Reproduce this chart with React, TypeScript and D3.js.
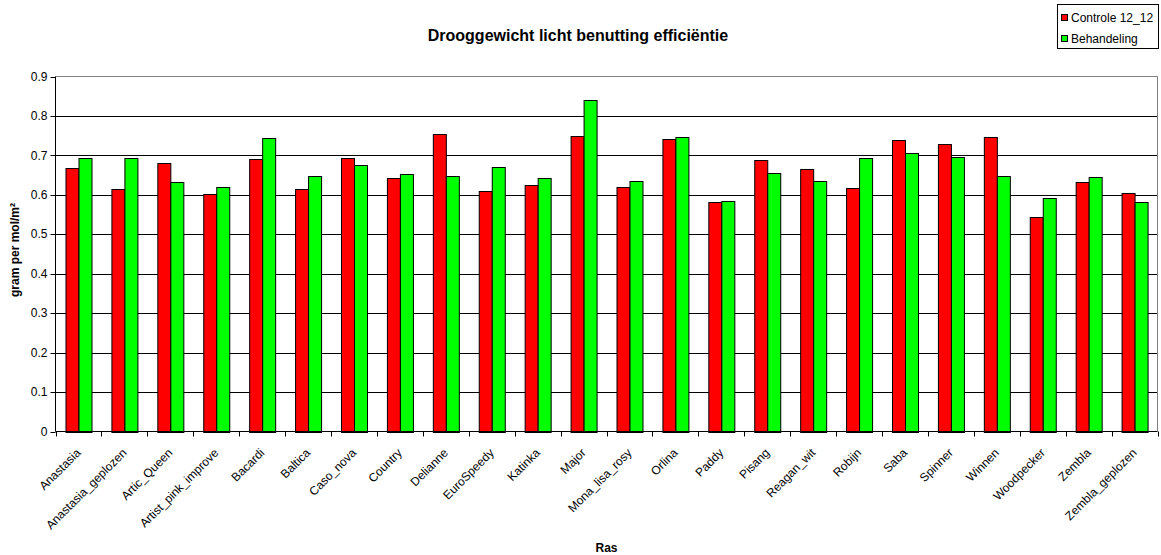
import React from "react";
import * as d3 from "d3";

const categories = [
  "Anastasia", "Anastasia_geplozen", "Artic_Queen", "Artist_pink_improve", "Bacardi",
  "Baltica", "Caso_nova", "Country", "Delianne", "EuroSpeedy", "Katinka", "Major",
  "Mona_lisa_rosy", "Orlina", "Paddy", "Pisang", "Reagan_wit", "Robijn", "Saba",
  "Spinner", "Winnen", "Woodpecker", "Zembla", "Zembla_geplozen",
];

const controle = [
  0.667, 0.614, 0.680, 0.601, 0.691, 0.614, 0.693, 0.642, 0.754, 0.610, 0.625, 0.750,
  0.619, 0.741, 0.583, 0.689, 0.665, 0.617, 0.739, 0.728, 0.746, 0.545, 0.632, 0.605,
];

const behandeling = [
  0.693, 0.693, 0.632, 0.621, 0.745, 0.647, 0.675, 0.654, 0.649, 0.671, 0.643, 0.840,
  0.635, 0.747, 0.585, 0.655, 0.636, 0.693, 0.706, 0.695, 0.647, 0.592, 0.645, 0.583,
];

const seriesNames = ["Controle 12_12", "Behandeling"];
const seriesColors = ["#FF0000", "#00FF00"];
const yTicks = [0, 0.1, 0.2, 0.3, 0.4, 0.5, 0.6, 0.7, 0.8, 0.9];

const title = "Drooggewicht licht benutting efficiëntie";
const yTitle = "gram per mol/m²";
const xTitle = "Ras";

const W = 1161;
const H = 555;
const plot = { left: 55.5, right: 1157.5, top: 76.5, bottom: 431.5 };
const font = "'Liberation Sans', Arial, sans-serif";

export default function App() {
  const x = d3.scaleBand<string>().domain(categories).range([plot.left, plot.right]);
  const x1 = d3
    .scaleBand<string>()
    .domain(seriesNames)
    .range([0, x.bandwidth()])
    .paddingInner(0)
    .paddingOuter(0.76);
  const y = d3.scaleLinear().domain([0, 0.9]).range([plot.bottom, plot.top]);

  const values = [controle, behandeling];
  const ticksX = categories.map((c) => x(c) as number).concat([plot.right]);

  return (
    <svg
      width={W}
      height={H}
      style={{ position: "absolute", left: 0, top: 0, background: "#fff" }}
      fontFamily={font}
    >
      <rect x={0} y={0} width={W} height={H} fill="#fff" />

      {/* gridlines */}
      {yTicks.slice(1, -1).map((t) => (
        <line
          key={"g" + t}
          x1={plot.left}
          x2={plot.right}
          y1={Math.round(y(t)) + 0.5}
          y2={Math.round(y(t)) + 0.5}
          stroke="#000"
          strokeWidth={1}
        />
      ))}
      {/* plot area border (top and right) */}
      <line x1={plot.left} x2={plot.right} y1={plot.top} y2={plot.top} stroke="#808080" />
      <line x1={plot.right} x2={plot.right} y1={plot.top} y2={plot.bottom} stroke="#808080" />

      {/* bars */}
      {categories.map((c, i) => (
        <g key={c} transform={`translate(${x(c)},0)`}>
          {seriesNames.map((s, j) => {
            const v = values[j][i];
            const bx = x1(s) as number;
            return (
              <rect
                key={s}
                x={Math.round(bx) + 0.5}
                y={Math.round(y(v)) + 0.5}
                width={Math.round(x1.bandwidth())}
                height={Math.round(plot.bottom) - Math.round(y(v))}
                fill={seriesColors[j]}
                stroke="#000"
                strokeWidth={1}
              />
            );
          })}
        </g>
      ))}

      {/* axes */}
      <line x1={plot.left} x2={plot.left} y1={plot.top} y2={plot.bottom} stroke="#000" />
      <line x1={plot.left} x2={plot.right} y1={plot.bottom} y2={plot.bottom} stroke="#000" />
      {yTicks.map((t) => (
        <g key={"t" + t}>
          <line
            x1={plot.left - 5}
            x2={plot.left}
            y1={Math.round(y(t)) + 0.5}
            y2={Math.round(y(t)) + 0.5}
            stroke="#000"
          />
          <text
            x={plot.left - 8}
            y={y(t)}
            dy="0.35em"
            textAnchor="end"
            fontSize={12}
            fill="#000"
          >
            {t === 0 ? "0" : d3.format(".1f")(t)}
          </text>
        </g>
      ))}
      {ticksX.map((tx, i) => (
        <line
          key={"xt" + i}
          x1={Math.round(tx) + 0.5}
          x2={Math.round(tx) + 0.5}
          y1={plot.bottom}
          y2={plot.bottom + 5}
          stroke="#000"
        />
      ))}
      {categories.map((c) => {
        const cx = (x(c) as number) + x.bandwidth() / 2;
        return (
          <text
            key={"l" + c}
            transform={`translate(${cx + 3},${plot.bottom + 22}) rotate(-45)`}
            textAnchor="end"
            fontSize={12}
            fill="#000"
          >
            {c}
          </text>
        );
      })}

      {/* titles */}
      <text x={578} y={41} textAnchor="middle" fontSize={16} fontWeight="bold" fill="#000">
        {title}
      </text>
      <text
        transform={`translate(19,250) rotate(-90)`}
        textAnchor="middle"
        fontSize={12}
        fontWeight="bold"
        fill="#000"
      >
        {yTitle}
      </text>
      <text
        x={(plot.left + plot.right) / 2}
        y={552}
        textAnchor="middle"
        fontSize={12}
        fontWeight="bold"
        fill="#000"
      >
        {xTitle}
      </text>

      {/* legend */}
      <rect x={1057.5} y={4.5} width={101} height={44} fill="#fff" stroke="#000" />
      {seriesNames.map((s, j) => (
        <g key={"lg" + s} transform={`translate(1061,${18 + j * 21})`}>
          <rect x={0.5} y={-3.5} width={6} height={6} fill={seriesColors[j]} stroke="#000" />
          <text x={10} y={0} dy="0.35em" fontSize={12} fill="#000">
            {s}
          </text>
        </g>
      ))}
    </svg>
  );
}
